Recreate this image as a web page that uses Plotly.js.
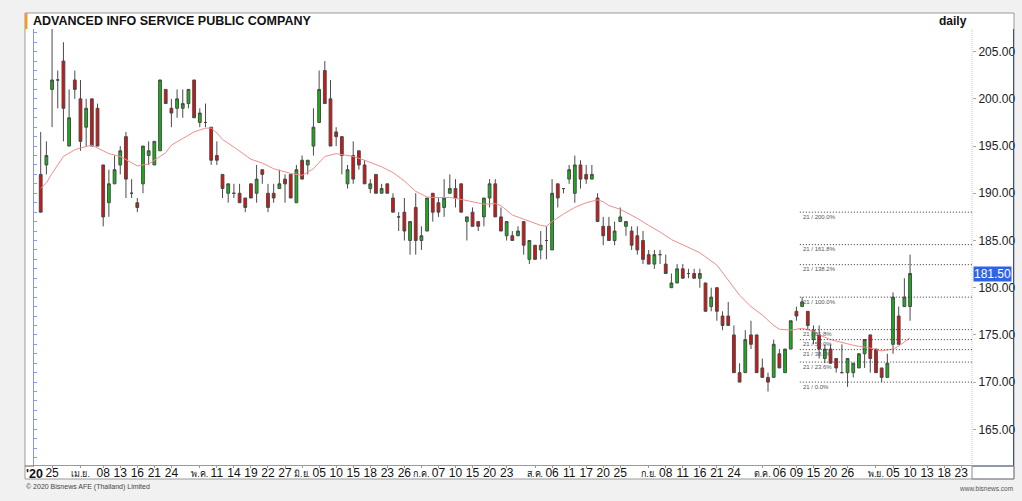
<!DOCTYPE html>
<html>
<head>
<meta charset="utf-8">
<script src="https://cdn.plot.ly/plotly-3.0.1.min.js"></script>
<style>
html,body{margin:0;padding:0;background:#f1f1f1;}
#chart{width:1022px;height:501px;}
</style>
</head>
<body>
<div id="chart"></div>
<script>
// ---------------- DATA ----------------
const tradingDays = [
 '2020-03-23','2020-03-24','2020-03-25','2020-03-26','2020-03-27','2020-03-30','2020-03-31',
 '2020-04-01','2020-04-02','2020-04-03','2020-04-07','2020-04-08','2020-04-09','2020-04-10','2020-04-13','2020-04-14','2020-04-15','2020-04-16','2020-04-17','2020-04-20','2020-04-21','2020-04-22','2020-04-23','2020-04-24','2020-04-27','2020-04-28','2020-04-29','2020-04-30',
 '2020-05-05','2020-05-07','2020-05-08','2020-05-11','2020-05-12','2020-05-13','2020-05-14','2020-05-15','2020-05-18','2020-05-19','2020-05-20','2020-05-21','2020-05-22','2020-05-25','2020-05-26','2020-05-27','2020-05-28','2020-05-29',
 '2020-06-01','2020-06-02','2020-06-04','2020-06-05','2020-06-08','2020-06-09','2020-06-10','2020-06-11','2020-06-12','2020-06-15','2020-06-16','2020-06-17','2020-06-18','2020-06-19','2020-06-22','2020-06-23','2020-06-24','2020-06-25','2020-06-26','2020-06-29','2020-06-30',
 '2020-07-01','2020-07-02','2020-07-03','2020-07-07','2020-07-08','2020-07-09','2020-07-10','2020-07-13','2020-07-14','2020-07-15','2020-07-16','2020-07-17','2020-07-20','2020-07-21','2020-07-22','2020-07-23','2020-07-24','2020-07-29','2020-07-30','2020-07-31',
 '2020-08-03','2020-08-04','2020-08-05','2020-08-06','2020-08-07','2020-08-10','2020-08-11','2020-08-13','2020-08-14','2020-08-17','2020-08-18','2020-08-19','2020-08-20','2020-08-21','2020-08-24','2020-08-25','2020-08-26','2020-08-27','2020-08-28','2020-08-31',
 '2020-09-01','2020-09-02','2020-09-03','2020-09-08','2020-09-09','2020-09-10','2020-09-11','2020-09-14','2020-09-15','2020-09-16','2020-09-17','2020-09-18','2020-09-21','2020-09-22','2020-09-23','2020-09-24','2020-09-25','2020-09-28','2020-09-29','2020-09-30',
 '2020-10-01','2020-10-02','2020-10-05','2020-10-06','2020-10-07','2020-10-08','2020-10-09','2020-10-12','2020-10-14','2020-10-15','2020-10-16','2020-10-19','2020-10-20','2020-10-21','2020-10-22','2020-10-26','2020-10-27','2020-10-28','2020-10-29','2020-10-30',
 '2020-11-02','2020-11-03','2020-11-04','2020-11-05','2020-11-06','2020-11-09','2020-11-10'
];
const futureDays = ['2020-11-11','2020-11-12','2020-11-13','2020-11-16','2020-11-17','2020-11-18','2020-11-19','2020-11-20','2020-11-23','2020-11-24'];

const openP = [
 192.0,193.0,201.0,202.0,204.0,195.0,202.0,200.0,197.0,200.0,199.0,193.0,189.0,191.0,193.0,196.0,190.0,189.0,191.0,194.0,
 193.0,194.5,201.0,199.0,199.0,199.0,199.5,202.0,197.5,197.5,197.0,194.0,192.0,190.0,190.0,190.0,189.5,191.0,190.0,192.5,
 190.0,190.0,190.5,191.5,192.0,189.0,193.5,193.0,195.0,197.5,203.0,200.0,196.5,196.0,191.0,194.0,194.5,193.0,190.5,192.0,
 190.0,191.0,189.5,187.5,188.0,185.0,188.5,185.0,186.0,190.0,189.0,188.5,190.0,190.5,191.0,187.0,188.0,187.0,187.5,189.5,
 191.0,187.5,185.5,185.5,185.5,187.0,183.0,184.5,184.0,185.0,184.0,191.0,190.5,191.5,190.0,193.0,192.0,191.5,189.5,186.5,
 186.5,185.0,187.0,186.5,186.0,185.5,185.0,183.5,182.5,183.5,182.5,180.0,180.5,182.0,181.5,181.5,181.0,180.5,178.0,180.0,
 177.0,177.0,175.0,171.0,171.0,175.0,175.0,171.5,170.5,170.5,173.0,171.0,173.5,177.5,178.0,177.5,174.5,175.0,172.5,173.5,
 172.5,171.0,171.0,171.0,171.5,173.0,175.0,173.5,171.5,170.5,174.0,177.0,178.0,178.0
];
const highP = [
 196.5,195.5,207.5,203.0,206.0,201.0,203.0,202.0,200.0,200.0,199.5,193.0,192.5,194.0,195.0,196.5,191.5,189.5,195.0,195.5,
 195.5,202.0,201.0,200.0,201.0,201.0,201.0,202.0,199.0,199.5,197.0,195.5,192.0,191.0,191.0,191.0,189.5,191.0,193.0,192.5,
 191.0,191.0,192.5,192.0,192.0,193.0,194.0,193.5,199.0,203.0,204.0,202.0,197.0,196.0,193.0,195.5,194.5,193.5,191.5,192.0,
 191.0,191.0,190.0,188.0,189.5,187.0,190.0,186.5,189.5,190.0,189.5,191.5,192.0,191.5,191.0,187.5,188.5,187.0,189.5,191.5,
 191.5,188.5,187.0,186.0,186.5,187.0,185.0,184.5,186.0,186.5,191.5,191.0,190.5,193.0,194.0,193.5,193.0,193.0,190.0,187.5,
 187.5,187.0,188.5,187.0,186.5,186.5,186.0,184.0,184.0,184.0,183.5,181.5,182.5,182.5,182.0,182.0,182.0,180.5,180.0,180.0,
 177.5,178.5,176.0,172.0,175.5,176.5,175.0,172.5,171.0,174.5,173.5,173.5,176.5,178.0,179.0,177.5,176.0,176.0,174.0,174.0,
 172.5,174.0,172.5,172.0,173.0,174.5,175.0,173.5,171.5,173.0,179.5,178.0,181.0,183.5
];
const lowP = [
 188.0,192.0,197.0,199.0,195.5,195.0,200.0,194.5,195.0,195.0,195.0,186.5,187.5,191.0,192.0,189.5,189.5,188.0,190.0,193.0,
 193.0,194.5,199.5,197.0,198.0,198.0,199.0,198.0,197.0,197.0,193.0,193.0,189.5,189.0,189.5,189.0,188.0,189.5,189.0,191.0,
 188.0,189.0,190.5,189.0,189.5,189.0,191.5,192.0,194.0,197.5,199.5,195.0,195.0,192.0,190.5,191.0,192.5,191.0,190.0,190.0,
 190.0,190.0,188.0,186.0,185.0,183.5,183.5,184.0,186.0,187.0,187.5,187.5,190.0,188.5,188.0,185.0,186.5,186.0,186.5,188.5,
 187.5,186.0,185.0,185.0,185.5,183.5,182.5,183.0,183.0,183.0,184.0,188.5,190.0,191.0,189.0,190.5,191.0,191.5,187.0,184.5,
 185.0,184.5,187.0,185.5,184.0,183.5,182.5,182.5,182.0,182.5,181.5,180.0,180.5,181.0,181.0,181.0,180.0,177.5,177.5,176.5,
 175.5,176.0,171.0,170.0,171.0,173.5,171.0,170.5,169.0,170.5,171.5,171.0,173.5,176.5,178.0,175.5,174.0,172.5,172.0,172.0,
 171.0,171.0,169.5,170.5,171.5,171.5,171.0,171.0,170.0,170.5,173.0,174.0,178.0,176.5
];
const closeP = [
 188.0,194.0,202.0,202.0,199.0,198.0,201.0,195.5,199.0,195.0,195.0,187.5,191.0,192.5,194.5,191.5,190.0,188.5,195.0,194.5,
 195.5,202.0,199.5,198.5,200.0,199.5,201.0,198.0,198.5,197.5,193.5,193.5,190.5,191.0,190.0,189.0,188.5,189.5,191.5,192.0,
 188.5,189.5,191.0,191.0,189.5,192.5,191.5,193.5,197.0,201.0,199.5,195.0,196.0,194.0,192.5,191.5,193.0,191.0,191.0,190.0,
 190.5,190.0,188.0,187.5,186.0,187.0,185.0,185.5,189.5,188.0,188.0,189.5,190.5,189.5,188.0,187.5,186.5,186.5,189.5,191.0,
 187.5,186.0,187.0,185.0,186.0,184.5,185.0,183.0,184.5,185.0,190.0,189.5,190.5,192.5,193.0,191.5,191.5,192.0,187.0,185.5,
 185.0,186.0,187.5,187.0,184.5,184.0,183.0,182.5,183.5,183.5,181.5,180.5,182.0,181.0,181.5,181.0,181.5,177.5,179.0,177.5,
 176.0,176.0,171.0,170.0,174.5,174.0,171.0,170.5,170.0,174.0,171.5,173.5,176.5,177.0,178.5,176.0,175.5,173.5,173.5,172.0,
 171.5,171.0,172.5,172.0,173.0,174.5,172.5,171.0,170.5,172.0,179.0,174.0,179.0,181.5
];

// moving-average line (trading-day index, value)
const maIdx = [0,1,2,4,6,7,9,11,12,14,16,17,19,20,22,23,25,27,29,30,31,32,34,37,39,41,44,46,48,50,52,55,57,60,62,64,66,68,70,72,74,76,78,80,81,83,86,88,89,90,92,94,96,98,99,100,102,104,105,107,109,111,114,116,119,121,123,125,127,129,130,132,134,136,137,139,141,143,145,146,148,150,151,153];
const maVal = [190.5,191.1,192.1,193.9,194.6,194.8,195.1,194.5,194.2,193.9,193.25,192.9,193.1,193.5,194.3,195.1,195.8,196.5,196.9,196.9,196.4,195.7,194.9,193.6,193.2,192.6,192.1,191.9,192.6,193.9,194.2,193.9,193.5,192.8,192.2,191.3,190.2,189.6,189.55,189.55,189.35,189.1,188.85,188.9,188.7,187.7,187.0,186.6,186.5,187.0,187.8,188.5,189.0,189.3,189.1,188.7,188.3,187.7,187.35,186.6,185.9,185.1,184.3,183.7,182.4,180.8,179.2,178.0,177.1,176.0,175.6,175.5,175.7,175.4,175.0,174.5,174.2,173.9,173.7,173.6,173.3,173.5,173.8,174.7];

// x-axis tick labels
const tickDates = ['2020-03-25','2020-04-01','2020-04-08','2020-04-13','2020-04-16','2020-04-21','2020-04-24',
 '2020-05-05','2020-05-11','2020-05-14','2020-05-19','2020-05-22','2020-05-27',
 '2020-06-01','2020-06-05','2020-06-10','2020-06-15','2020-06-18','2020-06-23','2020-06-26',
 '2020-07-01','2020-07-07','2020-07-10','2020-07-15','2020-07-20','2020-07-23',
 '2020-08-03','2020-08-06','2020-08-11','2020-08-17','2020-08-20','2020-08-25',
 '2020-09-01','2020-09-08','2020-09-11','2020-09-16','2020-09-21','2020-09-24',
 '2020-10-01','2020-10-06','2020-10-09','2020-10-15','2020-10-20','2020-10-26',
 '2020-11-02','2020-11-05','2020-11-10','2020-11-13','2020-11-18','2020-11-23'];
const tickLabels = ['25','เม.ย.','08','13','16','21','24',
 'พ.ค.','11','14','19','22','27',
 'มิ.ย.','05','10','15','18','23','26',
 'ก.ค.','07','10','15','20','23',
 'ส.ค.','06','11','17','20','25',
 'ก.ย.','08','11','16','21','24',
 'ต.ค.','06','09','15','20','26',
 'พ.ย.','05','10','13','18','23'];
const monthLabels = ['เม.ย.','พ.ค.','มิ.ย.','ก.ค.','ส.ค.','ก.ย.','ต.ค.','พ.ย.'];

// Fibonacci projection drawn from the October swing
const fibPct = ['0.0%','23.6%','38.2%','50.0%','61.8%','100.0%','138.2%','161.8%','200.0%'];
const fibPrice = [170.0,172.12,173.44,174.5,175.56,179.0,182.44,184.56,188.0];
const lastPrice = 181.50;

// ---------------- LAYOUT HELPERS ----------------
const W = 1022, H = 501;
const L = 34, R = 972, T = 29, B = 465;
const px = x => (x - L) / (R - L);
const py = y => (B - y) / (B - T);
const FONT = 'Liberation Sans, Arial, Helvetica, sans-serif';
const yRange = [161.22, 207.40];
const xRange = [-1.18, 163.9];
const fibX0 = 133.6;

const allDays = tradingDays.concat(futureDays);
const ticktext = tickLabels.map(t => monthLabels.includes(t)
  ? '<span style="font-size:9px">' + t + '</span>' : t);

const traces = [
  {
    type: 'candlestick', x: tradingDays, open: openP, high: highP, low: lowP, close: closeP,
    increasing: {line: {color: '#4a4a4a', width: 1}, fillcolor: '#14b414'},
    decreasing: {line: {color: '#4a4a4a', width: 1}, fillcolor: '#dd1010'},
    whiskerwidth: 0, hoverinfo: 'skip', showlegend: false
  },
  {
    type: 'scatter', mode: 'lines', x: maIdx.map(i => tradingDays[i]), y: maVal,
    line: {color: '#f28c8c', width: 1}, hoverinfo: 'skip', showlegend: false
  },
  { type: 'scatter', mode: 'lines', x: [], y: [], yaxis: 'y2', showlegend: false, hoverinfo: 'skip' }
];

const shapes = [
  // white chart frame
  {type:'rect', xref:'paper', yref:'paper', x0:px(25), x1:px(1014), y0:py(479), y1:py(13),
   fillcolor:'#ffffff', line:{color:'#9a9a9a', width:1}, layer:'below'},
  // orange title marker
  {type:'rect', xref:'paper', yref:'paper', x0:px(25), x1:px(27.5), y0:py(29), y1:py(13),
   fillcolor:'#f59b22', line:{width:0}},
  // price-scale separator (dotted yellow)
  {type:'line', xref:'paper', yref:'paper', x0:1, x1:1, y0:py(466), y1:py(29),
   line:{color:'#e2cd7e', width:1, dash:'1px,1px'}},
  // price-scale right border (blue)
  {type:'line', xref:'paper', yref:'paper', x0:px(1013.5), x1:px(1013.5), y0:py(466), y1:py(29),
   line:{color:'#3a4c9e', width:1}},
  {type:'line', xref:'paper', yref:'paper', x0:1, x1:px(1014), y0:py(466), y1:py(466),
   line:{color:'#3a4c9e', width:1}},
  // small box bottom right
  {type:'rect', xref:'paper', yref:'paper', x0:1, x1:px(1014), y0:py(479), y1:py(466),
   line:{color:'#8a8a8a', width:1}},
  // label row line under x axis
  {type:'line', xref:'paper', yref:'paper', x0:px(25), x1:px(34), y0:py(466), y1:py(466),
   line:{color:'#6b5a3a', width:1}}
];
fibPrice.forEach(p => shapes.push({
  type:'line', xref:'x', yref:'y', x0:fibX0, x1:xRange[1], y0:p, y1:p,
  line:{color:'#333333', width:1, dash:'1px,2px'}
}));

const annotations = [
  {xref:'paper', yref:'paper', x:px(31), y:py(21), xanchor:'left', yanchor:'middle', showarrow:false,
   text:'<b>ADVANCED INFO SERVICE PUBLIC COMPANY</b>', font:{family:FONT, size:12.5, color:'#111'}},
  {xref:'paper', yref:'paper', x:px(969), y:py(21), xanchor:'right', yanchor:'middle', showarrow:false,
   text:'<b>daily</b>', font:{family:FONT, size:12, color:'#111'}},
  {xref:'paper', yref:'paper', x:px(24), y:py(473.5), xanchor:'left', yanchor:'middle', showarrow:false,
   text:"<b>'20</b>", font:{family:FONT, size:12.5, color:'#111'}},
  {xref:'paper', yref:'paper', x:px(24), y:py(487), xanchor:'left', yanchor:'middle', showarrow:false,
   text:'© 2020 Bisnews AFE (Thailand) Limited', font:{family:FONT, size:7, color:'#444'}},
  {xref:'paper', yref:'paper', x:px(1015), y:py(488), xanchor:'right', yanchor:'middle', showarrow:false,
   text:'www.bisnews.com', font:{family:FONT, size:6.5, color:'#555'}},
  {xref:'paper', yref:'y', x:px(972.5), y:lastPrice, xanchor:'left', yanchor:'middle', showarrow:false,
   text:lastPrice.toFixed(2), bgcolor:'#2f63e6', borderpad:0,
   font:{family:FONT, size:12, color:'#ffffff'}}
];
fibPrice.forEach((p, k) => annotations.push({
  xref:'x', yref:'y', x:fibX0 + 0.3, y:p, xanchor:'left', yanchor:'top', yshift:-0.5, showarrow:false,
  text:'21 / ' + fibPct[k], font:{family:FONT, size:6, color:'#555'}, borderpad:0
}));

const layout = {
  width: W, height: H,
  margin: {l: L, r: W - R, t: T, b: H - B, pad: 0},
  paper_bgcolor: '#f1f1f1', plot_bgcolor: 'rgba(0,0,0,0)',
  showlegend: false, hovermode: false, dragmode: false,
  font: {family: FONT, size: 12, color: '#222'},
  xaxis: {
    type: 'category', categoryorder: 'array', categoryarray: allDays,
    range: xRange, rangeslider: {visible: false},
    tickmode: 'array', tickvals: tickDates, ticktext: ticktext, tickangle: 0,
    tickfont: {family: FONT, size: 12, color: '#111'},
    ticks: 'outside', ticklen: 2, tickcolor: '#999', ticklabelstandoff: -5,
    showline: true, linecolor: '#9a9a9a', linewidth: 1,
    showgrid: false, zeroline: false, fixedrange: true
  },
  yaxis: {
    side: 'right', range: yRange, tick0: 165, dtick: 5, tickformat: '.2f',
    tickfont: {family: FONT, size: 12, color: '#222'},
    ticks: 'outside', ticklen: 3, tickcolor: '#aaa',
    showline: false, showgrid: false, zeroline: false, fixedrange: true
  },
  yaxis2: {
    overlaying: 'y', side: 'left', anchor: 'x', range: yRange, dtick: 1,
    showticklabels: false, ticks: 'inside', ticklen: 3, tickcolor: '#8a99e3',
    showline: true, linecolor: '#8a99e3', linewidth: 1,
    showgrid: false, zeroline: false, fixedrange: true
  },
  shapes: shapes,
  annotations: annotations
};

Plotly.newPlot('chart', traces, layout, {displayModeBar: false, staticPlot: true});
</script>
</body>
</html>
